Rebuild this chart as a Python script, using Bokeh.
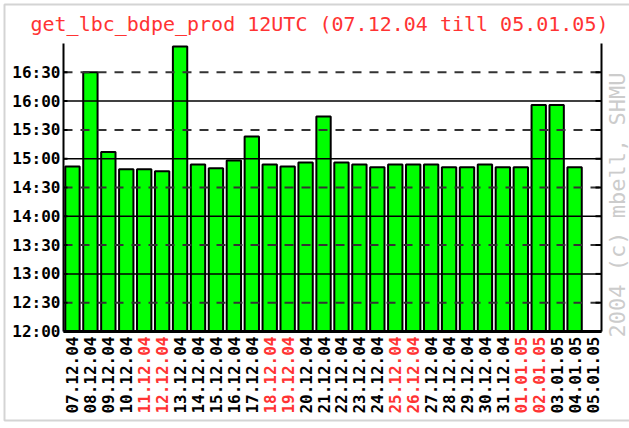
import math
from bokeh.plotting import figure
from bokeh.models import Range1d, ColumnDataSource
from bokeh.core.properties import value
from bokeh.embed import file_html
from bokeh.resources import INLINE

title_text = "get_lbc_bdpe_prod 12UTC (07.12.04 till 05.01.05)"
credit_text = "2004 (c) mbell, SHMU"

dates = ["07.12.04", "08.12.04", "09.12.04", "10.12.04", "11.12.04", "12.12.04",
         "13.12.04", "14.12.04", "15.12.04", "16.12.04", "17.12.04", "18.12.04",
         "19.12.04", "20.12.04", "21.12.04", "22.12.04", "23.12.04", "24.12.04",
         "25.12.04", "26.12.04", "27.12.04", "28.12.04", "29.12.04", "30.12.04",
         "31.12.04", "01.01.05", "02.01.05", "03.01.05", "04.01.05", "05.01.05"]

weekend = ["11.12.04", "12.12.04", "18.12.04", "19.12.04", "25.12.04",
           "26.12.04", "01.01.05", "02.01.05"]

finish_times = ["14:52", "16:30", "15:07", "14:49", "14:49", "14:47", "16:57",
                "14:54", "14:50", "14:58", "15:23", "14:54", "14:52", "14:56",
                "15:44", "14:56", "14:54", "14:51", "14:54", "14:54", "14:54",
                "14:51", "14:51", "14:54", "14:51", "14:51", "15:56", "15:56",
                "14:51", None]

ytick_labels = ["12:00", "12:30", "13:00", "13:30", "14:00", "14:30",
                "15:00", "15:30", "16:00", "16:30"]
y_start, y_end = "12:00", "17:00"


def to_min(s):
    if s is None:
        return float("nan")
    h, m = s.split(":")
    return int(h) * 60 + int(m)


n = len(dates)
xs = [i + 0.5 for i in range(n)]
tops = [to_min(t) for t in finish_times]
yticks = [to_min(t) for t in ytick_labels]
y0, y1 = to_min(y_start), to_min(y_end)
hour_ticks = [t for t in yticks if t % 60 == 0 and t > y0]
half_ticks = [t for t in yticks if t % 60 == 30]

# layout in pixels (canvas 629 x 428, plot area 63..601 x 43..331)
W, H = 629, 428
fl, fr, ft, fb = 63, 601, 43, 331
px_per_x = (fr - fl) / n
px_per_y = (fb - ft) / (y1 - y0)
x_range = Range1d(-fl / px_per_x, n + (W - fr) / px_per_x)
y_range = Range1d(y0 - (H - fb) / px_per_y, y1 + ft / px_per_y)


def px_x(px):
    return x_range.start + px / px_per_x


def px_y(py):
    return y_range.end - py / px_per_y


mono = value("DejaVu Sans Mono")

p = figure(x_range=x_range, y_range=y_range, width=W, height=H,
           output_backend="svg", toolbar_location=None, min_border=0)
p.background_fill_color = "white"
p.border_fill_color = "white"
p.outline_line_color = None
p.axis.visible = False
p.grid.visible = False

# light picture frame (left, top, bottom)
p.line(x=[px_x(W), px_x(4), px_x(4), px_x(W)],
       y=[px_y(4), px_y(4), px_y(420), px_y(420)],
       line_color="#d4d4d4", line_width=2)

src = ColumnDataSource(dict(x=xs, top=tops, label=dates,
                            color=["#ff3333" if d in weekend else "black" for d in dates]))
p.vbar(x="x", top="top", bottom=y0, width=0.8, source=src,
       fill_color="#00ff00", line_color="black", line_width=2)

# horizontal grid lines over the bars
p.segment(x0=0, x1=n, y0=hour_ticks, y1=hour_ticks,
          line_color="black", line_width=1.5)
p.segment(x0=0, x1=n, y0=half_ticks, y1=half_ticks,
          line_color="#333333", line_width=2, line_dash="9 8")

# axis lines
p.segment(x0=[0, n], x1=[0, n], y0=y0, y1=y1, line_color="black", line_width=2)
p.segment(x0=0, x1=n, y0=y0, y1=y0, line_color="black", line_width=3)
# inward ticks
p.ray(x=0, y=yticks, length=4, length_units="screen", angle=0,
      line_color="black", line_width=2)
p.ray(x=n, y=yticks, length=6, length_units="screen", angle=math.pi,
      line_color="black", line_width=2)

# y tick labels
p.text(x=0, y=yticks, text=ytick_labels, x_offset=-3, text_align="right",
       text_baseline="middle", text_font=mono, text_font_style="bold",
       text_font_size="16px", text_color="black")

# x tick labels (rotated)
p.text(x="x", y=y0, text="label", source=src, angle=math.pi / 2, y_offset=5,
       text_align="right", text_baseline="middle", text_font=mono,
       text_font_style="bold", text_font_size="16px", text_color="color")

# credit
p.text(x=n, y=y0, text=[credit_text], x_offset=16, y_offset=6,
       angle=math.pi / 2, text_align="left", text_baseline="middle",
       text_font=mono, text_font_size="22px", text_color="#cccccc")

# title
p.text(x=0, y=y1, text=[title_text], x_offset=-33, y_offset=-20,
       text_align="left", text_baseline="middle", text_font=mono,
       text_font_size="20px", text_color="#ff3333")

open("out.html", "w").write(file_html(p, INLINE))
